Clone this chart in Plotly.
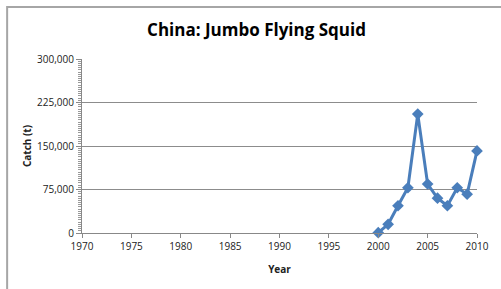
import plotly.graph_objects as go

years = [2000, 2001, 2002, 2003, 2004, 2005, 2006, 2007, 2008, 2009, 2010]
catch = [500, 15000, 47000, 78000, 205000, 84500, 60000, 47000, 78000, 67000, 141500]

title_text = "China: Jumbo Flying Squid"
x_title = "Year"
y_title = "Catch (t)"
x_ticks = [1970, 1975, 1980, 1985, 1990, 1995, 2000, 2005, 2010]
y_ticks = [0, 75000, 150000, 225000, 300000]

fig = go.Figure()
fig.add_trace(go.Scatter(
    x=years, y=catch, mode="lines+markers",
    line=dict(color="#4a7ebb", width=3),
    marker=dict(symbol="diamond", size=9, color="#4a7ebb"),
    cliponaxis=False, showlegend=False,
))

font_family = "Open Sans, Noto Sans, sans-serif"
fig.update_layout(
    width=501, height=289,
    margin=dict(l=82, r=18, t=59, b=56),
    paper_bgcolor="white", plot_bgcolor="white",
    font=dict(family=font_family, size=10, color="#222"),
    title=dict(text="<b>" + title_text + "</b>", x=0.512, xanchor="center",
               y=1 - 30 / 289, yanchor="middle",
               font=dict(size=17, color="#000", family=font_family)),
    xaxis=dict(
        range=[1970, 2010], tickvals=x_ticks, ticktext=[str(t) for t in x_ticks],
        showgrid=False, zeroline=False,
        showline=True, linecolor="#888", linewidth=1,
        ticks="outside", ticklen=4, tickcolor="#888",
        title=dict(text="<b>" + x_title + "</b>", font=dict(size=10), standoff=13),
    ),
    yaxis=dict(
        range=[0, 300000], tickvals=y_ticks, tickformat=",",
        showgrid=True, gridcolor="#8c8c8c", gridwidth=1,
        zeroline=False,
        showline=True, linecolor="#888", linewidth=1,
        ticks="outside", ticklen=5, tickcolor="#888",
        minor=dict(dtick=3750, ticks="outside", ticklen=3, tickcolor="#999", showgrid=False),
        title=dict(text="<b>" + y_title + "</b>", font=dict(size=10), standoff=3),
    ),
    shapes=[dict(
        type="rect", xref="paper", yref="paper",
        x0=(6 - 82) / 401, x1=1.5, y0=-1.0, y1=1 + (59 - 7) / 174,
        line=dict(color="#a6a6a6", width=2), fillcolor="rgba(0,0,0,0)", layer="below",
    )],
)

fig.write_html(
    "out.html",
    config={"displayModeBar": False, "staticPlot": True},
    post_script="document.body.style.margin='0';document.body.style.overflow='hidden';",
)
